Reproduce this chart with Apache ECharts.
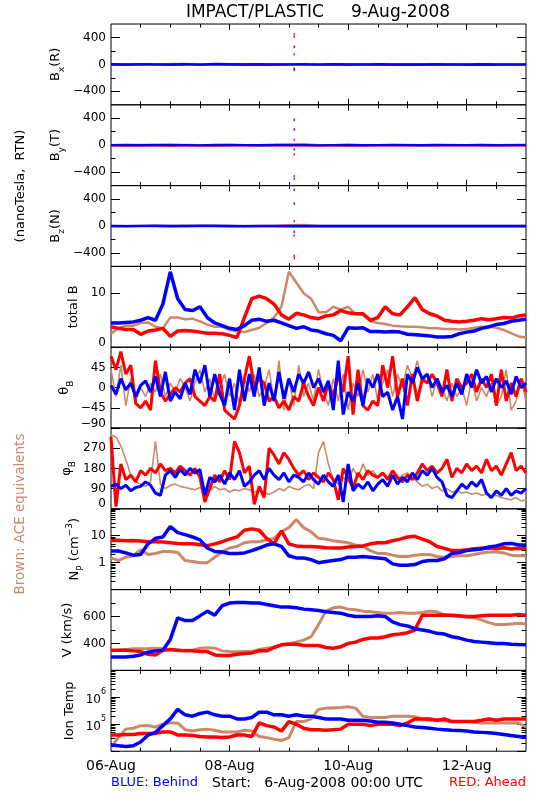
<!DOCTYPE html>
<html><head><meta charset="utf-8">
<script src="https://cdn.jsdelivr.net/npm/echarts@6/dist/echarts.min.js"></script>
<style>html,body{margin:0;padding:0;background:#fff}#c{width:550px;height:800px}</style>
</head><body><div id="c"></div>
<script>
// ---------- DATA (hours since 6-Aug-2008 00:00 UTC) ----------
const STEP_B = 6;      // hours between samples, B components
const STEP_S = 3;      // hours between samples, smooth panels
const STEP_A = 2;      // hours between samples, angle panels
const xTickHours = [0, 48, 96, 144];
const xTickText = ['06-Aug', '08-Aug', '10-Aug', '12-Aug'];

const bxBlue  = [2,-1,3,1,-2,4,-3,5,2,-1,3,-2,1,2,-3,2,-1,1,2,-2,1,-1,2,1,-1,2,-2,1,1];
const bxRed   = [-6,-8,-3,-5,-9,-4,-3,-6,-4,-2,-5,-3,-4,-6,-2,-3,-5,-7,-8,-6,-9,-7,-8,-10,-9,-8,-10,-9,-8];
const bxBrown = [3,5,4,6,8,9,7,5,4,3,5,4,6,5,4,3,5,4,3,4,5,3,4,5,4,3,4,5,4];
const byBlue  = [1,2,-1,3,2,1,-2,3,2,1,-1,2,3,1,-2,1,2,-1,1,2,1,-1,2,1,1,2,-1,1,2];
const byRed   = [-5,-7,-4,-6,-8,-5,-4,-7,-6,-5,-3,-6,-5,-4,-6,-5,-7,-4,-5,-6,-4,-5,-6,-3,-4,-5,-6,-4,-5];
const byBrown = [4,3,5,4,6,5,4,3,5,4,3,5,12,18,4,3,5,4,3,4,5,3,4,5,4,3,4,5,4];
const bzBlue  = [1,-2,2,3,-1,2,4,3,1,-2,1,2,-1,1,2,-1,1,2,1,-1,2,1,-1,1,2,1,-1,2,1];
const bzRed   = [-4,-6,-5,-3,-7,-6,-4,-5,-6,-8,-5,-4,-6,-5,-7,-8,-9,-6,-5,-7,-6,-8,-5,-6,-7,-5,-6,-8,-6];
const bzBrown = [3,4,2,5,4,6,5,4,3,5,4,3,15,20,4,5,3,4,5,3,4,5,3,4,5,3,4,5,4];

const spikeHour = 74.2;
const bxSpikeBlue = [260,-65],      bxSpikeRed = [450,410,150,-85];
const bySpikeBlue = [378,234,-62],  bySpikeRed = [78,-136,-461,-500];
const bzSpikeBlue = [537,333,-87],  bzSpikeRed = [72,-142,-442,-477];

const totBBlue  = [4.5,4.5,4.6,4.7,5.0,5.5,5.0,8.0,14.0,9.0,7.0,6.8,7.5,5.5,4.5,4.0,3.5,3.3,4.0,5.0,5.2,4.8,5.0,4.5,4.0,3.5,3.8,3.2,3.0,2.5,2.2,1.2,3.6,3.5,3.6,2.9,2.9,2.8,2.9,2.8,2.4,2.3,2.2,2.1,1.9,1.9,2.0,2.5,2.8,3.0,3.5,3.8,4.2,4.4,4.8,5.0,5.2];
const totBRed   = [3.8,3.5,3.3,3.3,2.4,3.0,3.2,3.5,2.0,3.0,3.1,3.0,2.8,2.6,2.6,2.5,2.2,1.8,5.5,9.0,9.5,9.0,8.0,6.0,5.2,6.3,6.0,5.5,5.3,5.8,6.0,6.8,6.4,6.2,6.2,5.0,5.5,7.5,6.2,6.0,7.5,9.2,7.0,6.2,5.8,5.0,4.8,4.7,4.8,5.0,5.3,5.1,5.3,5.5,5.4,5.8,6.0];
const totBBrown = [2.5,3.5,4.0,4.0,4.5,4.6,3.8,3.5,5.5,5.5,5.2,5.3,4.8,4.2,3.8,3.8,3.2,3.0,2.8,3.2,3.6,4.5,5.5,7.5,14.0,12.0,10.0,9.0,6.5,6.5,7.5,7.0,7.5,6.2,6.0,4.8,4.5,4.3,4.0,3.9,3.8,3.8,3.7,3.5,3.5,3.4,3.4,3.3,3.4,3.6,3.8,3.8,3.6,3.2,2.6,2.0,1.8];

const thetaBlue  = [5,-15,20,-5,10,-20,5,15,-10,25,-20,35,-30,-10,-25,10,-15,40,10,50,-20,30,-15,-40,20,-50,40,-30,30,-20,45,-40,10,-30,35,-25,20,-10,30,10,35,0,20,-10,15,-50,60,-60,-10,-30,10,-40,20,0,30,-20,-10,-50,-20,-70,30,10,45,20,30,0,20,-10,5,-20,10,-15,30,0,40,10,25,-10,20,0,15,-15,25,0,10];
const thetaRed   = [70,40,80,30,50,-35,-45,-30,-50,60,-10,-30,-15,0,-10,10,20,-20,-30,-40,-20,-30,30,-50,-60,-70,-40,20,70,0,20,10,-30,-20,-45,-30,-50,-20,-30,10,-20,-40,0,-30,10,-20,30,-10,70,-60,40,-40,-50,-30,-40,50,0,70,-20,20,-40,30,-30,20,10,30,10,-20,40,-30,20,0,10,30,-10,20,0,30,-40,40,-30,10,-20,20,-10];
const thetaBrown = [40,-20,50,-40,20,-30,0,-20,10,-10,30,-20,10,-10,20,0,-30,10,40,-10,20,-30,0,30,-20,10,-40,20,-10,30,-20,0,40,-30,60,-50,20,-40,50,-20,10,-30,40,-10,-40,20,-30,30,-50,10,-20,40,-10,30,-30,10,40,-20,30,0,50,20,60,10,30,-20,20,0,-30,10,-20,0,-40,20,-30,0,-20,10,-40,-20,40,-50,-30,20,-30];

const phiBlue  = [100,110,90,105,80,95,100,120,105,70,60,150,170,140,175,150,180,160,175,60,140,120,150,110,160,130,170,100,120,150,170,130,180,150,130,160,120,150,140,120,160,130,110,150,120,100,150,30,200,80,110,90,120,80,110,130,100,150,110,140,120,160,130,170,150,180,140,120,60,50,80,110,90,120,100,130,70,50,80,60,90,60,80,70,90];
const phiRed   = [320,10,200,130,150,120,170,150,180,160,200,170,180,160,190,170,150,180,140,30,90,150,120,170,130,300,250,160,190,20,100,50,270,240,200,250,220,180,150,170,130,160,140,120,160,130,40,180,140,90,160,130,170,150,140,160,130,170,140,120,150,130,160,200,170,190,160,180,220,140,180,160,200,170,190,160,220,170,190,150,200,250,170,190,160];
const phiBrown = [330,320,280,220,150,120,110,100,120,300,110,90,105,110,100,95,90,85,95,90,80,100,85,90,75,85,80,90,85,75,80,70,65,75,90,80,100,90,85,100,110,90,250,300,200,130,110,140,120,180,140,200,150,170,140,160,140,170,130,150,160,140,120,100,110,90,100,80,90,75,80,70,75,65,70,60,65,55,60,50,45,40,50,35,40];

const npBlue  = [2.7,2.7,2.3,1.9,2.0,5.0,8.0,9.0,22,13,11,9.0,7.0,3.5,2.6,2.5,2.2,2.2,2.3,2.8,3.5,4.5,5.0,4.0,1.8,1.5,1.5,1.3,1.0,1.1,1.2,1.3,1.6,1.6,1.7,1.6,1.5,1.4,0.9,0.8,0.8,0.85,1.1,1.2,1.2,1.4,2.2,2.4,2.8,3.0,3.2,3.8,4.2,5.0,5.2,4.5,4.5];
const npRed   = [6.6,6.8,6.5,6.6,6.4,6.0,6.0,5.8,5.5,5.2,5.0,5.0,4.6,4.3,5.0,6.0,7.5,9.0,16,18,16,8.0,5.0,15,5.0,4.2,4.0,4.0,3.8,3.6,3.5,3.5,3.8,4.0,4.2,5.0,5.5,5.5,6.5,7.5,9.0,9.5,7.5,6.0,4.0,3.4,2.8,2.8,3.0,3.3,3.4,3.5,3.3,3.6,3.2,3.4,3.3];
const npBrown = [1.5,1.2,1.6,1.8,3.0,2.0,2.2,2.6,2.6,2.4,1.2,1.1,1.0,1.0,1.6,2.5,3.5,4.0,5.5,6.0,6.0,7.0,8.0,14,20,40,20,14,8.0,7.5,6.5,6.0,5.5,4.5,4.0,2.8,2.2,2.2,1.9,1.7,1.7,1.9,2.0,2.0,1.7,1.6,1.7,1.8,1.8,2.0,2.3,2.5,2.5,2.3,1.9,1.8,1.8];

const vBlue  = [300,300,300,305,315,335,345,350,430,590,570,570,605,640,610,680,700,705,705,700,700,690,680,670,670,665,655,650,645,635,630,625,610,600,600,600,605,600,560,540,530,510,500,490,475,470,450,440,425,415,410,405,400,400,395,392,390];
const vRed   = [350,350,350,345,340,320,315,350,355,350,345,345,340,340,315,310,310,320,325,330,345,345,370,390,395,395,385,385,385,370,365,375,400,410,430,440,440,450,465,470,480,500,610,610,610,612,610,605,600,600,605,610,610,610,610,615,610];
const vBrown = [345,350,355,360,360,362,365,360,355,350,350,350,365,368,365,345,340,338,340,340,355,365,372,390,400,410,425,450,540,640,665,670,655,650,640,635,630,625,625,630,625,625,630,640,635,610,605,600,595,590,575,555,540,540,545,550,545];

const tBlue  = [17e3,16e3,15e3,16e3,22e3,40e3,50e3,89e3,158e3,355e3,224e3,200e3,251e3,282e3,224e3,200e3,200e3,158e3,158e3,178e3,282e3,282e3,224e3,224e3,200e3,224e3,200e3,200e3,178e3,158e3,158e3,158e3,141e3,141e3,141e3,132e3,120e3,120e3,112e3,100e3,89e3,79e3,76e3,71e3,66e3,63e3,60e3,59e3,56e3,52e3,50e3,48e3,45e3,42e3,38e3,35e3,32e3];
const tRed   = [40e3,40e3,42e3,42e3,45e3,45e3,45e3,52e3,52e3,40e3,40e3,38e3,35e3,34e3,34e3,32e3,34e3,40e3,40e3,35e3,112e3,89e3,79e3,56e3,126e3,100e3,71e3,63e3,63e3,60e3,63e3,66e3,100e3,100e3,100e3,89e3,100e3,100e3,100e3,89e3,112e3,158e3,158e3,158e3,141e3,158e3,126e3,126e3,126e3,126e3,141e3,158e3,141e3,158e3,158e3,158e3,158e3];
const tBrown = [14e3,32e3,66e3,71e3,89e3,89e3,79e3,100e3,112e3,112e3,63e3,56e3,63e3,66e3,60e3,52e3,52e3,52e3,60e3,56e3,35e3,32e3,28e3,25e3,32e3,126e3,126e3,158e3,355e3,398e3,398e3,417e3,447e3,398e3,200e3,178e3,178e3,178e3,200e3,200e3,200e3,191e3,158e3,141e3,141e3,132e3,126e3,126e3,126e3,120e3,112e3,112e3,112e3,112e3,112e3,112e3,79e3];

// tick values / labels
const bTicksMajor = [-400,0,400], bTicksMinor = [-200,200], bLabels = [-400,0,400];
const totTicks = [0,10], totLabels = [0,10];
const thetaTicks = [-90,-45,0,45,90], thetaLabels = [-90,-45,0,45];
const phiTicks = [0,90,180,270,360], phiLabels = [0,90,180,270];
const npTicks = [0.1,1,10,100], npLabels = [1,10];
const npMinor = [0.2,0.3,0.4,0.5,0.6,0.7,0.8,0.9,2,3,4,5,6,7,8,9,20,30,40,50,60,70,80,90];
const vTicks = [200,400,600,800], vMinor = [300,500,700], vLabels = [400,600];
const tTicks = [1e4,1e5,1e6,1e7], tLabels = [1e5,1e6];
const tMinor = [2e4,3e4,4e4,5e4,6e4,7e4,8e4,9e4,2e5,3e5,4e5,5e5,6e5,7e5,8e5,9e5,2e6,3e6,4e6,5e6,6e6,7e6,8e6,9e6];

// ---------- STYLE / LAYOUT ----------
const BLUE = '#0000ff', RED = '#ff0000', BROWN = '#cd8868';
const FONT = 'DejaVu Sans';
const PLEFT = 111, PRIGHT = 24, PTOP = 24, PH = 80.8;

const panels = [
  {name:'{n|B}{s|x}{n|(R)}', nx:56, type:'value', min:-600, max:600, major:bTicksMajor, minor:bTicksMinor, labels:bLabels, step:STEP_B, data:[bxBrown,bxRed,bxBlue], lw:[2,2,2.4], spikes:[null,bxSpikeRed,bxSpikeBlue]},
  {name:'{n|B}{s|y}{n|(T)}', nx:56, type:'value', min:-600, max:600, major:bTicksMajor, minor:bTicksMinor, labels:bLabels, step:STEP_B, data:[byBrown,byRed,byBlue], lw:[2,2,2.4], spikes:[null,bySpikeRed,bySpikeBlue]},
  {name:'{n|B}{s|z}{n|(N)}', nx:56, type:'value', min:-600, max:600, major:bTicksMajor, minor:bTicksMinor, labels:bLabels, step:STEP_B, data:[bzBrown,bzRed,bzBlue], lw:[2,2,2.4], spikes:[null,bzSpikeRed,bzSpikeBlue]},
  {name:'{n|total B}', nx:74, type:'value', min:0, max:15, major:totTicks, minor:[], labels:totLabels, step:STEP_S, data:[totBBrown,totBRed,totBBlue], lw:[2.5,3.5,3.5]},
  {name:'{n|θ}{s|B}', nx:65, type:'value', min:-90, max:90, major:thetaTicks, minor:[], labels:thetaLabels, step:STEP_A, data:[thetaBrown,thetaRed,thetaBlue], lw:[1.6,3,3]},
  {name:'{n|φ}{s|B}', nx:67, type:'value', min:0, max:360, major:phiTicks, minor:[], labels:phiLabels, step:STEP_A, data:[phiBrown,phiRed,phiBlue], lw:[1.6,3,3]},
  {name:'{n|N}{s|P}{n| (cm}{p|−3}{n|)}', nx:75, type:'log', min:0.1, max:100, major:npTicks, minor:npMinor, labels:npLabels, step:STEP_S, data:[npBrown,npRed,npBlue], lw:[3,3.5,3.5]},
  {name:'{n|V (km/s)}', nx:68, type:'value', min:200, max:800, major:vTicks, minor:vMinor, labels:vLabels, step:STEP_S, data:[vBrown,vRed,vBlue], lw:[3,3.5,3.5]},
  {name:'{n|Ion Temp}', nx:70, type:'log', min:1e4, max:1e7, major:tTicks, minor:tMinor, labels:tLabels, step:STEP_S, data:[tBrown,tRed,tBlue], lw:[3,3.5,3.5], pow:true}
];
const COLORS = [BROWN, RED, BLUE];

const grids = [], xAxes = [], yAxes = [], series = [], graphics = [];
const xMinor = [12,24,36,60,72,84,108,120,132,156];
const xMajor = [48,96,144];

function fmtNum(v){ return (v < 0 ? '−' : '') + Math.abs(v); }

panels.forEach((p, i) => {
  const top = PTOP + i * PH;
  grids.push({left:PLEFT, right:PRIGHT, top:top, height:PH, show:true, borderColor:'#000', borderWidth:1, backgroundColor:'rgba(0,0,0,0)'});
  const isLast = i === panels.length - 1;
  function xa(pos, ticks, len, lab){
    return {gridIndex:i, type:'value', min:0, max:168, position:pos,
      axisLine:{show:false, onZero:false}, splitLine:{show:false},
      axisTick:{show:true, inside:true, length:len, customValues:ticks, lineStyle:{color:'#000', width:1}},
      axisLabel:{show:lab, customValues:xTickHours, margin:8, color:'#000', fontFamily:FONT, fontSize:14,
        formatter: v => { const k = xTickHours.indexOf(Math.round(v)); return k >= 0 ? xTickText[k] : ''; }}};
  }
  xAxes.push(xa('bottom', xMajor, 6, isLast), xa('bottom', xMinor, 3.5, false), xa('top', xMajor, 6, false), xa('top', xMinor, 3.5, false));
  function ya(pos, ticks, len, lab){
    const a = {gridIndex:i, type:p.type, min:p.min, max:p.max, position:pos,
      axisLine:{show:false, onZero:false}, splitLine:{show:false},
      axisTick:{show:ticks.length > 0, inside:true, length:len, customValues:ticks.length ? ticks : [p.min], lineStyle:{color:'#000', width:1}},
      axisLabel:{show:lab, customValues:p.labels, margin:5, color:'#000', fontFamily:FONT, fontSize:12,
        rich:{e:{fontFamily:FONT, fontSize:12, color:'#000', padding:[0,0,9,0]},
              a:{fontFamily:FONT, fontSize:12, color:'#000', lineHeight:18, verticalAlign:'bottom'},
              b:{fontFamily:FONT, fontSize:8, color:'#000', lineHeight:18, verticalAlign:'top'}},
        formatter: v => {
          if (p.pow) { return '{a|10}{b|' + Math.round(Math.log10(v)) + '}'; }
          const t = fmtNum(Math.round(v * 1000) / 1000);
          return (Math.abs(v - p.min) < 1e-9 && p.type !== 'log') ? '{e|' + t + '}' : t;
        }}};
    if (p.type === 'log') a.logBase = 10;
    return a;
  }
  yAxes.push(ya('left', p.major, 9, true), ya('left', p.minor, 4.5, false), ya('right', p.major, 9, false), ya('right', p.minor, 4.5, false));
  p.data.forEach((arr, k) => {
    series.push({type:'line', xAxisIndex:i*4, yAxisIndex:i*4, symbol:'none', silent:true, animation:false,
      lineStyle:{color:COLORS[k], width:p.lw[k]}, z:2+k,
      data: arr.map((v, j) => [j * p.step, v])});
  });
  if (p.spikes) {
    p.spikes.forEach((arr, k) => {
      if (!arr) return;
      series.push({type:'scatter', xAxisIndex:i*4, yAxisIndex:i*4, symbol:'rect', symbolSize:[1.6,2.5], silent:true, animation:false,
        itemStyle:{color:COLORS[k]}, z:6, data: arr.map(v => [spikeHour, v])});
    });
  }
  graphics.push({type:'text', x:p.nx, y:top + PH/2, rotation:Math.PI/2, z:10,
    style:{text:p.name, align:'center', verticalAlign:'middle', textAlign:'center', textVerticalAlign:'middle', fill:'#000',
      rich:{n:{fontFamily:FONT, fontSize:13, fill:'#000', lineHeight:20, verticalAlign:'middle'},
            s:{fontFamily:FONT, fontSize:9, fill:'#000', lineHeight:20, verticalAlign:'bottom'},
            p:{fontFamily:FONT, fontSize:9, fill:'#000', lineHeight:20, verticalAlign:'top'}}}});
});

function txt(x, y, s, color, size, align, rot){
  return {type:'text', x:x, y:y, rotation:rot || 0, z:10,
    style:{text:s, fill:color, font:size + 'px "' + FONT + '"', align:align, verticalAlign:'middle', textAlign:align, textVerticalAlign:'middle'}};
}
graphics.push(txt(318, 13, 'IMPACT/PLASTIC     9-Aug-2008', '#000', 17, 'center'));
graphics.push(txt(21, 186, '(nanoTesla,  RTN)', '#000', 13, 'center', Math.PI/2));
graphics.push(txt(20, 514, 'Brown: ACE equivalents', BROWN, 13.5, 'center', Math.PI/2));
graphics.push(txt(111, 783, 'BLUE: Behind', BLUE, 13, 'left'));
graphics.push(txt(212, 783, 'Start:   6-Aug-2008 00:00 UTC', '#000', 14, 'left'));
graphics.push(txt(526, 783, 'RED: Ahead', RED, 13, 'right'));

const chart = echarts.init(document.getElementById('c'), null, {renderer:'canvas'});
chart.setOption({animation:false, backgroundColor:'#fff', grid:grids, xAxis:xAxes, yAxis:yAxes, series:series, graphic:graphics});
</script></body></html>
